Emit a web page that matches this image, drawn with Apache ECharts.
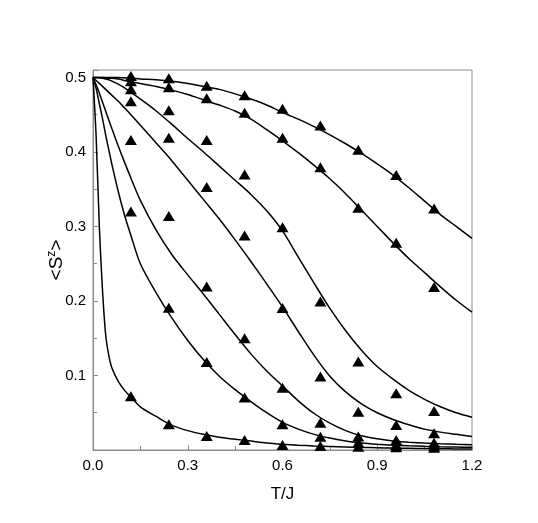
<!DOCTYPE html>
<html>
<head>
<meta charset="utf-8">
<script src="https://cdn.jsdelivr.net/npm/echarts@6/dist/echarts.min.js"></script>
<style>
  html, body { margin: 0; padding: 0; background: #fff; }
  #main { width: 538px; height: 523px; }
</style>
</head>
<body>
<div id="main"></div>
<script>
// temperatures for the fitted curves
var tFit = [0, 0.01, 0.02, 0.03, 0.04, 0.05, 0.06, 0.08, 0.1, 0.12, 0.15, 0.2, 0.25, 0.3, 0.35, 0.4, 0.45, 0.5,
  0.55, 0.6, 0.65, 0.7, 0.75, 0.8, 0.85, 0.9, 0.95, 1.0, 1.05, 1.1, 1.15, 1.2];

// curves, top to bottom
var fit1 = [0.5, 0.5, 0.5, 0.5, 0.5, 0.5, 0.5, 0.5, 0.4995, 0.499, 0.498, 0.497, 0.495, 0.492, 0.488, 0.484, 0.478, 0.471,
  0.463, 0.453, 0.444, 0.434, 0.423, 0.411, 0.398, 0.384, 0.369, 0.352, 0.334, 0.316, 0.300, 0.284];
var fit2 = [0.5, 0.5, 0.5, 0.5, 0.4995, 0.499, 0.499, 0.498, 0.496, 0.494, 0.492, 0.488, 0.483, 0.477, 0.470, 0.463, 0.455, 0.444,
  0.43, 0.415, 0.399, 0.382, 0.364, 0.344, 0.322, 0.300, 0.278, 0.257, 0.238, 0.219, 0.201, 0.185];
var fit3 = [0.5, 0.5, 0.4995, 0.499, 0.498, 0.497, 0.495, 0.491, 0.486, 0.480, 0.471, 0.455, 0.437, 0.418, 0.400, 0.381, 0.362, 0.343,
  0.321, 0.294, 0.259, 0.224, 0.190, 0.160, 0.134, 0.112, 0.095, 0.080, 0.068, 0.058, 0.05, 0.044];
var fit4 = [0.5, 0.496, 0.492, 0.488, 0.484, 0.480, 0.476, 0.468, 0.459, 0.450, 0.436, 0.412, 0.388, 0.362, 0.336, 0.310, 0.282, 0.253,
  0.223, 0.192, 0.159, 0.127, 0.099, 0.078, 0.062, 0.050, 0.041, 0.034, 0.028, 0.024, 0.021, 0.018];
var fit5 = [0.5, 0.49, 0.479, 0.467, 0.455, 0.443, 0.431, 0.408, 0.386, 0.365, 0.335, 0.295, 0.262, 0.235, 0.209, 0.182, 0.155, 0.129,
  0.106, 0.086, 0.066, 0.049, 0.036, 0.026, 0.019, 0.015, 0.012, 0.0105, 0.0093, 0.0083, 0.0076, 0.007];
var fit6 = [0.5, 0.485, 0.465, 0.445, 0.423, 0.403, 0.383, 0.347, 0.315, 0.288, 0.250, 0.211, 0.177, 0.147, 0.121, 0.099, 0.081, 0.065,
  0.05, 0.037, 0.028, 0.021, 0.016, 0.012, 0.0095, 0.0078, 0.0065, 0.0056, 0.0049, 0.0043, 0.0039, 0.0036];
var fit7 = [0.5, 0.42, 0.30, 0.215, 0.155, 0.127, 0.11, 0.092, 0.08, 0.071, 0.058, 0.045, 0.033, 0.026, 0.021, 0.017, 0.0145, 0.012,
  0.0095, 0.0078, 0.0065, 0.0055, 0.0047, 0.004, 0.0034, 0.003, 0.0026, 0.0023, 0.002, 0.0017, 0.0015, 0.0013];

// simulation points (triangles)
var tPts = [0.12, 0.24, 0.36, 0.48, 0.6, 0.72, 0.84, 0.96, 1.08];
var pts1 = [0.502, 0.499, 0.489, 0.476, 0.458, 0.4355, 0.403, 0.369, 0.324];
var pts2 = [0.495, 0.487, 0.472, 0.4526, 0.419, 0.3794, 0.325, 0.278, 0.2187];
var pts3 = [0.484, 0.456, 0.416, 0.3696, 0.299, 0.1993, 0.1187, 0.0762, 0.0524];
var pts4 = [0.468, 0.419, 0.353, 0.288, 0.1905, 0.0985, 0.0515, 0.0336, 0.0224];
var pts5 = [0.416, 0.314, 0.2195, 0.150, 0.0837, 0.0367, 0.018, 0.0134, 0.0098];
var pts6 = [0.320, 0.191, 0.118, 0.0703, 0.0345, 0.0179, 0.010, 0.0067, 0.0054];
var pts7 = [0.072, 0.0345, 0.0188, 0.0134, 0.0067, 0.0055, 0.0045, 0.0036, 0.003];

var xTicks = [0, 0.3, 0.6, 0.9, 1.2];
var yTicks = [0.1, 0.2, 0.3, 0.4, 0.5];

var fits = [fit1, fit2, fit3, fit4, fit5, fit6, fit7];
var pts = [pts1, pts2, pts3, pts4, pts5, pts6, pts7];

function zip(xs, ys) {
  return xs.map(function (x, i) { return [x, ys[i]]; });
}

var axisGray = "#8c8c8c";
var font = "Liberation Sans, Arial, sans-serif";

var series = [];
fits.forEach(function (f) {
  series.push({
    type: "line",
    data: zip(tFit, f),
    smooth: 0.3,
    showSymbol: false,
    lineStyle: { color: "#000", width: 1.5 },
    z: 2,
    silent: true
  });
});
pts.forEach(function (p) {
  series.push({
    type: "scatter",
    data: zip(tPts, p),
    symbol: "triangle",
    symbolSize: [12, 10],
    itemStyle: { color: "#000", opacity: 1 },
    z: 3
  });
});

var myChart = echarts.init(document.getElementById("main"));
var option = {
  animation: false,
  grid: {
    left: 93,
    right: 66,
    top: 70,
    bottom: 73,
    show: true,
    borderColor: axisGray,
    borderWidth: 1
  },
  xAxis: {
    type: "value",
    min: 0,
    max: 1.2,
    interval: 0.3,
    name: "T/J",
    nameLocation: "middle",
    nameGap: 36,
    nameMoveOverlap: false,
    nameTextStyle: { fontSize: 17, color: "#000", fontFamily: font },
    axisLine: { lineStyle: { color: axisGray } },
    axisTick: { inside: true, length: 5, lineStyle: { color: axisGray } },
    minorTick: { show: true, splitNumber: 2, length: 4, lineStyle: { color: axisGray } },
    splitLine: { show: false },
    axisLabel: {
      fontSize: 15,
      color: "#000",
      fontFamily: font,
      margin: 8,
      formatter: function (v) {
        return xTicks.indexOf(+v.toFixed(2)) >= 0 ? v.toFixed(1) : "";
      }
    }
  },
  yAxis: {
    type: "value",
    min: 0,
    max: 0.51,
    interval: 0.1,
    name: "<S{sup|z}>",
    nameLocation: "middle",
    nameGap: 26,
    nameMoveOverlap: false,
    nameRotate: 90,
    nameTextStyle: {
      fontSize: 19,
      color: "#000",
      fontFamily: font,
      rich: { sup: { fontSize: 12, fontFamily: font, color: "#000", padding: [0, 0, 9, 0] } }
    },
    axisLine: { lineStyle: { color: axisGray } },
    axisTick: { inside: true, length: 5, lineStyle: { color: axisGray } },
    minorTick: { show: true, splitNumber: 2, length: 4, lineStyle: { color: axisGray } },
    splitLine: { show: false },
    axisLabel: {
      fontSize: 15,
      color: "#000",
      fontFamily: font,
      margin: 7,
      showMinLabel: false,
      showMaxLabel: false,
      formatter: function (v) {
        return yTicks.indexOf(+v.toFixed(2)) >= 0 ? v.toFixed(1) : "";
      }
    }
  },
  series: series
};
myChart.setOption(option);
</script>
</body>
</html>
